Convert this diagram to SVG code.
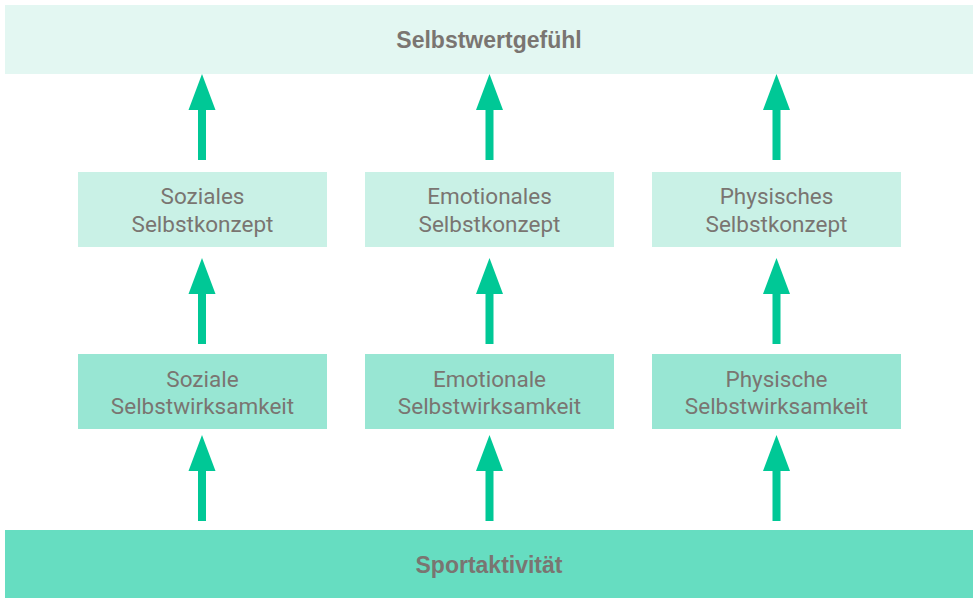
<svg xmlns="http://www.w3.org/2000/svg" width="975" height="598" viewBox="0 0 975 598">
<style>
.t{fill:#7a7571;text-anchor:middle}
.n{font-family:Roboto,"Liberation Sans",sans-serif;font-size:22.5px}
.b{font-family:"Liberation Sans",Arial,sans-serif;font-size:23px;font-weight:bold}
.a{fill:#00c896}
</style>
<defs>
<path id="arr" d="M-4,0 V-50 H-13.5 L0,-86 L13.5,-50 H4 V0 Z"/>
</defs>
<rect width="975" height="598" fill="#ffffff"/>
<g id="top"><rect x="5" y="5" width="968" height="69" fill="#e3f7f2"/><text class="t b" x="489" y="48">Selbstwertgefühl</text></g>
<g id="k1"><rect x="78" y="172" width="249" height="75" fill="#c9f1e6"/><text class="t n" x="202.5" y="204">Soziales</text><text class="t n" x="202.5" y="231.5">Selbstkonzept</text></g>
<g id="k2"><rect x="365" y="172" width="249" height="75" fill="#c9f1e6"/><text class="t n" x="489.5" y="204">Emotionales</text><text class="t n" x="489.5" y="231.5">Selbstkonzept</text></g>
<g id="k3"><rect x="652" y="172" width="249" height="75" fill="#c9f1e6"/><text class="t n" x="776.5" y="204">Physisches</text><text class="t n" x="776.5" y="231.5">Selbstkonzept</text></g>
<g id="w1"><rect x="78" y="354" width="249" height="75" fill="#98e6d3"/><text class="t n" x="202.5" y="386.5">Soziale</text><text class="t n" x="202.5" y="413.5">Selbstwirksamkeit</text></g>
<g id="w2"><rect x="365" y="354" width="249" height="75" fill="#98e6d3"/><text class="t n" x="489.5" y="386.5">Emotionale</text><text class="t n" x="489.5" y="413.5">Selbstwirksamkeit</text></g>
<g id="w3"><rect x="652" y="354" width="249" height="75" fill="#98e6d3"/><text class="t n" x="776.5" y="386.5">Physische</text><text class="t n" x="776.5" y="413.5">Selbstwirksamkeit</text></g>
<g id="bottom"><rect x="5" y="530" width="968" height="68" fill="#66ddc1"/><text class="t b" x="489" y="573">Sportaktivität</text></g>
<g id="connectors" class="a">
<use href="#arr" x="202" y="160"/>
<use href="#arr" x="489.5" y="160"/>
<use href="#arr" x="776.5" y="160"/>
<use href="#arr" x="202" y="344"/>
<use href="#arr" x="489.5" y="344"/>
<use href="#arr" x="776.5" y="344"/>
<use href="#arr" x="202" y="521"/>
<use href="#arr" x="489.5" y="521"/>
<use href="#arr" x="776.5" y="521"/>
</g>
</svg>
